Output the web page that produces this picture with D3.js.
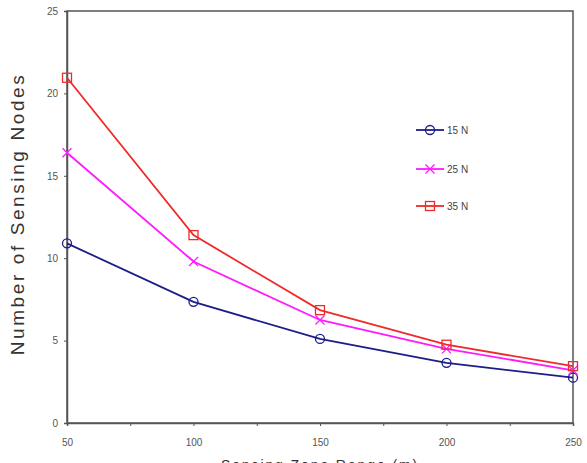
<!DOCTYPE html>
<html>
<head>
<meta charset="utf-8">
<script src="https://cdn.jsdelivr.net/npm/d3@7"></script>
<style>
  body { margin: 0; background: #fff; }
  svg { display: block; }
</style>
</head>
<body>
<div id="chart"></div>
<script>
// valores
const ranges = [50, 100, 150, 200, 250];
const nodes15 = [10.9, 7.35, 5.1, 3.65, 2.75];
const nodes25 = [16.4, 9.8, 6.25, 4.5, 3.2];
const nodes35 = [20.95, 11.4, 6.85, 4.75, 3.45];
const seriesNames = ["15 N", "25 N", "35 N"];
const yTicks = [0, 5, 10, 15, 20, 25];
const xTicks = [50, 100, 150, 200, 250];

const width = 587, height = 463;
const margin = { left: 67, right: 14, top: 11, bottom: 40 };

const svg = d3.select("#chart").append("svg")
    .attr("width", width)
    .attr("height", height);

const x = d3.scaleLinear().domain([50, 250]).range([margin.left, width - margin.right]);
const y = d3.scaleLinear().domain([0, 25]).range([height - margin.bottom, margin.top]);

const series = [
    { name: seriesNames[0], values: nodes15, color: "#1c1c8a", marker: "circle" },
    { name: seriesNames[1], values: nodes25, color: "#ff1aff", marker: "cross" },
    { name: seriesNames[2], values: nodes35, color: "#f02a2a", marker: "square" }
];

const axisColor = "#555";
const tickFont = "'Liberation Sans Narrow', 'Liberation Sans', Arial, sans-serif";

// caixa do gráfico
svg.append("rect")
    .attr("x", x(50)).attr("y", y(25))
    .attr("width", x(250) - x(50)).attr("height", y(0) - y(25))
    .attr("fill", "none").attr("stroke", axisColor).attr("stroke-width", 1.5);

// eixos
const xAxis = svg.append("g")
    .attr("transform", `translate(0,${y(0)})`)
    .call(d3.axisBottom(x).tickValues(d3.range(50, 251, 25)).tickSize(3).tickFormat(d => xTicks.includes(d) ? d : ""));
const yAxis = svg.append("g")
    .attr("transform", `translate(${x(50)},0)`)
    .call(d3.axisLeft(y).tickValues(yTicks).tickSize(3));

[xAxis, yAxis].forEach(g => {
    g.select(".domain").attr("stroke", axisColor).attr("stroke-width", 1.5);
    g.selectAll(".tick line").attr("stroke", axisColor);
    g.selectAll(".tick text")
        .attr("fill", "#555")
        .attr("font-size", "10px")
        .attr("font-family", tickFont);
});
xAxis.selectAll(".tick text").attr("dy", "0.71em").attr("y", 16);
yAxis.selectAll(".tick text").attr("x", -9);

// linhas
const line = d3.line().x((d, i) => x(ranges[i])).y(d => y(d));

function drawMarker(g, type, cx, cy, color) {
    if (type === "circle") {
        g.append("circle").attr("cx", cx).attr("cy", cy).attr("r", 4.5)
            .attr("fill", "none").attr("stroke", color).attr("stroke-width", 1.3);
    } else if (type === "square") {
        g.append("rect").attr("x", cx - 4.5).attr("y", cy - 4.5).attr("width", 9).attr("height", 9)
            .attr("fill", "none").attr("stroke", color).attr("stroke-width", 1.3);
    } else {
        const s = 4.5;
        g.append("path").attr("d", `M${cx - s},${cy - s}L${cx + s},${cy + s}M${cx - s},${cy + s}L${cx + s},${cy - s}`)
            .attr("stroke", color).attr("stroke-width", 1.3);
    }
}

series.forEach(s => {
    svg.append("path")
        .datum(s.values)
        .attr("d", line)
        .attr("fill", "none")
        .attr("stroke", s.color)
        .attr("stroke-width", 1.8);
    const g = svg.append("g");
    s.values.forEach((v, i) => drawMarker(g, s.marker, x(ranges[i]), y(v), s.color));
});

// legenda
const legendY = [130, 169, 206];
series.forEach((s, i) => {
    const g = svg.append("g");
    g.append("line").attr("x1", 416).attr("x2", 444)
        .attr("y1", legendY[i]).attr("y2", legendY[i])
        .attr("stroke", s.color).attr("stroke-width", 1.8);
    drawMarker(g, s.marker, 430, legendY[i], s.color);
    g.append("text").attr("x", 447).attr("y", legendY[i]).attr("dy", "0.35em")
        .attr("font-size", "10px").attr("font-family", tickFont).attr("fill", "#444")
        .text(s.name);
});

// títulos dos eixos
svg.append("text")
    .attr("transform", `translate(24,${214}) rotate(-90)`)
    .attr("text-anchor", "middle")
    .attr("font-size", "19px")
    .attr("letter-spacing", "2.6px")
    .attr("font-family", "'Liberation Sans', Arial, sans-serif")
    .attr("fill", "#333")
    .text("Number of Sensing Nodes");

// título do eixo x: cortado na borda inferior como no original
svg.append("text")
    .attr("x", 320).attr("y", 470)
    .attr("text-anchor", "middle")
    .attr("font-size", "14px")
    .attr("letter-spacing", "1.9px")
    .attr("font-family", "'Liberation Sans', Arial, sans-serif")
    .attr("fill", "#333")
    .text("Sensing Zone Range (m)");
</script>
</body>
</html>
